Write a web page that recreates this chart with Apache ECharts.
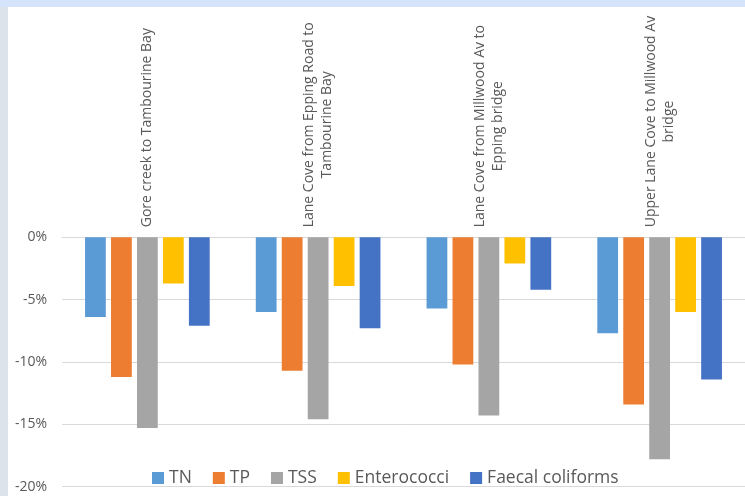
<!DOCTYPE html>
<html>
<head>
<meta charset="utf-8">
<script src="https://cdn.jsdelivr.net/npm/echarts@6/dist/echarts.min.js"></script>
<style>
  html, body { margin: 0; padding: 0; background: #ffffff; }
  #wrap { position: relative; width: 745px; height: 496px; overflow: hidden; }
  #topStrip { position: absolute; left: 0; top: 0; width: 745px; height: 7px; background: #d6e4fb; }
  #leftStrip { position: absolute; left: 0; top: 7px; width: 8px; height: 489px; background: #dde3eb; }
  #chart { position: absolute; left: 0; top: 0; width: 745px; height: 496px; }
</style>
</head>
<body>
<div id="wrap">
  <div id="topStrip"></div>
  <div id="leftStrip"></div>
  <div id="chart"></div>
</div>
<script>
// Reaches (categories) and change in pollutant load per reach, in percent
const categories = [
  'Gore creek to Tambourine Bay',
  'Lane Cove from Epping Road to\nTambourine Bay',
  'Lane Cove from Millwood Av to\nEpping bridge',
  'Upper Lane Cove to Millwood Av\nbridge'
];
const seriesNames = ['TN', 'TP', 'TSS', 'Enterococci', 'Faecal coliforms'];
const tnValues = [-6.4, -6.0, -5.7, -7.7];
const tpValues = [-11.2, -10.7, -10.2, -13.4];
const tssValues = [-15.3, -14.6, -14.3, -17.8];
const enterococciValues = [-3.7, -3.9, -2.1, -6.0];
const faecalValues = [-7.1, -7.3, -4.2, -11.4];
const yTicks = { min: -20, max: 0, step: 5 };

const colors = ['#5b9bd5', '#ed7d31', '#a5a5a5', '#ffc000', '#4472c4'];
const valueSets = [tnValues, tpValues, tssValues, enterococciValues, faecalValues];
const FONT = '"Open Sans", "DejaVu Sans", sans-serif';

const chart = echarts.init(document.getElementById('chart'), null, { renderer: 'canvas' });

chart.setOption({
  backgroundColor: 'transparent',
  animation: false,
  color: colors,
  textStyle: { fontFamily: FONT },
  grid: { left: 62, right: 0, top: 237.3, bottom: 9.3, containLabel: false },
  legend: {
    data: seriesNames,
    left: 147,
    top: 464,
    itemWidth: 12,
    itemHeight: 12,
    itemGap: 21,
    icon: 'rect',
    textStyle: { color: '#595959', fontSize: 17.5, fontFamily: FONT, lineHeight: 18 }
  },
  xAxis: {
    type: 'category',
    position: 'top',
    data: categories,
    axisLine: { show: true, lineStyle: { color: '#d9d9d9', width: 1 } },
    axisTick: { show: false },
    axisLabel: {
      interval: 0,
      rotate: 90,
      margin: 10,
      color: '#595959',
      fontSize: 14,
      fontFamily: FONT,
      formatter: function (v) {
        return v.split('\n').map(function (line) { return '{c|' + line + '}'; }).join('\n');
      },
      rich: {
        c: { align: 'center', fontSize: 14, lineHeight: 18, color: '#595959', fontFamily: FONT }
      }
    }
  },
  yAxis: {
    type: 'value',
    min: yTicks.min,
    max: yTicks.max,
    interval: yTicks.step,
    axisLine: { show: false },
    axisTick: { show: false },
    splitLine: { lineStyle: { color: '#d9d9d9', width: 1 } },
    axisLabel: {
      margin: 15,
      color: '#595959',
      fontSize: 14,
      fontFamily: FONT,
      formatter: '{value}%'
    }
  },
  series: seriesNames.map(function (name, i) {
    return {
      name: name,
      type: 'bar',
      data: valueSets[i],
      barGap: '25%',
      barCategoryGap: '27%',
      itemStyle: { color: colors[i] }
    };
  })
});
</script>
</body>
</html>
